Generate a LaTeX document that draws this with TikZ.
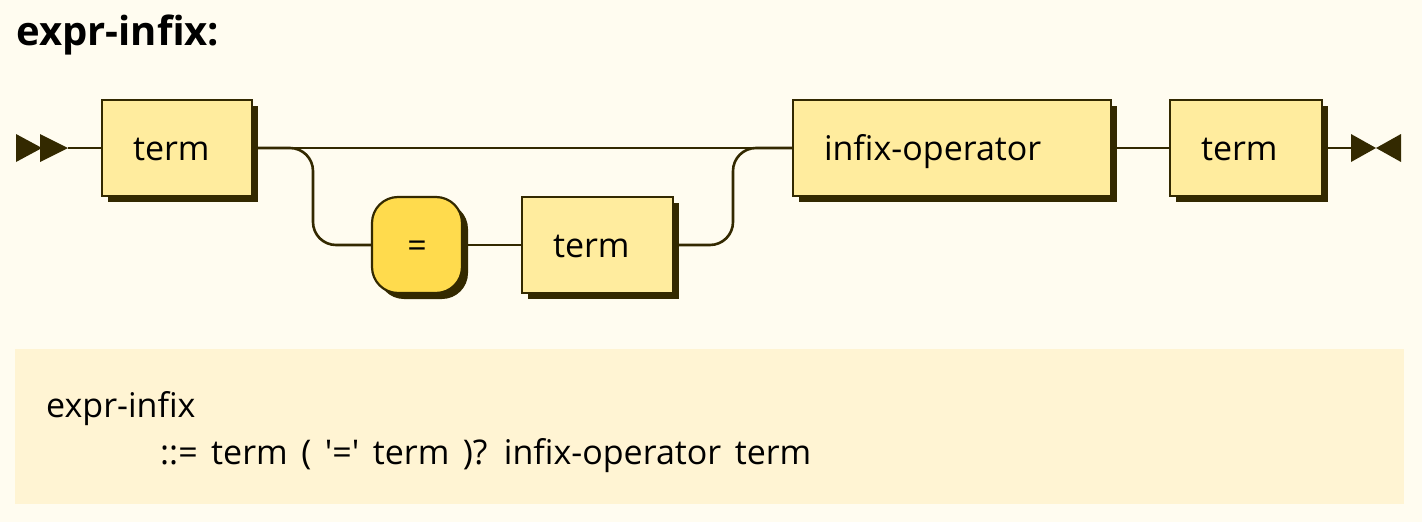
\documentclass[tikz,border=0pt]{standalone}
\usepackage{fontspec}
\setmainfont{Open Sans}[Ligatures=TeXOff]
\usetikzlibrary{positioning,shadows}
\usepackage{xcolor}
\definecolor{rrbg}{RGB}{255,252,240}
\definecolor{rrpanel}{RGB}{255,244,211}
\definecolor{rrline}{RGB}{51,41,0}
\definecolor{rrnonterm}{RGB}{255,236,158}
\definecolor{rrterm}{RGB}{255,219,77}
\newcommand{\codefont}{\fontsize{34}{40}\selectfont\spaceskip=13.5pt\relax}

\begin{document}
\begin{tikzpicture}[x=1pt,y=-1pt,
  rrbox/.style={rectangle,draw=rrline,line width=2.2pt,anchor=north west,outer sep=0pt,
    minimum height=96pt,inner xsep=31pt,inner ysep=0pt,text height=30pt,text depth=6pt,
    font=\fontsize{34}{40}\selectfont,align=left,
    drop shadow={shadow xshift=6pt,shadow yshift=-6pt,fill=rrline,opacity=1}},
  nonterm/.style={rrbox,fill=rrnonterm},
  termbox/.style={rrbox,fill=rrterm,rounded corners=26pt,align=center},
  rail/.style={draw=rrline,line width=2.6pt},
  code/.style={anchor=base west,inner sep=0pt}
]
\fill[rrbg] (0,0) rectangle (1422,522);
\useasboundingbox (0,0) rectangle (1422,522);

% Title
\node[anchor=base west,font=\fontsize{40}{48}\selectfont\bfseries,inner sep=0pt] (title) at (16,45) {expr-infix:};

% Top row
\node[nonterm,text width=88pt] (term1) at (102,100) {term};
\node[nonterm,text width=256pt] (oper) at (793,100) {infix-operator};
\node[nonterm,text width=90pt] (term3) at (1170,100) {term};

% Optional branch
\node[termbox,text width=28pt] (eq) at (372,197) {=};
\node[nonterm,text width=89pt] (term2) at (522,197) {term};

% Start and end marks
\coordinate[left=34pt of term1.west] (start);
\coordinate[right=29pt of term3.east] (stop);
\fill[rrline] (start) -- ++(-28,-14) -- ++(0,28) -- cycle;
\fill[rrline] (start) ++(-26,0) -- ++(-26,-14) -- ++(0,28) -- cycle;
\fill[rrline] (stop) ++(0,-14) -- ++(25,14) -- ++(-25,14) -- cycle;
\fill[rrline] (stop) ++(25,0) -- ++(25,-14) -- ++(0,28) -- cycle;

% Rails
\coordinate[right=61pt of term1.east] (splitL);
\coordinate[left=60pt of oper.west] (joinR);
\draw[rail] (start) -- (term1.west);
\draw[rail] (term1.east) -- (oper.west);
\draw[rail,rounded corners=23pt] (term1.east) -- (splitL) |- (eq.west);
\draw[rail] (eq.east) -- (term2.west);
\draw[rail,rounded corners=23pt] (term2.east) -| (joinR) -- (oper.west);
\draw[rail] (oper.east) -- (term3.west);
\draw[rail] (term3.east) -- (stop);

% Grammar text
\fill[rrpanel] (15,349) rectangle (1404,504);
\node[code] (lhs) at (46,417) {\codefont expr-infix};
\node[code] (rhs) at (160,464) {\codefont ::= term ( '=' term )? infix-operator term};

\end{tikzpicture}
\end{document}
